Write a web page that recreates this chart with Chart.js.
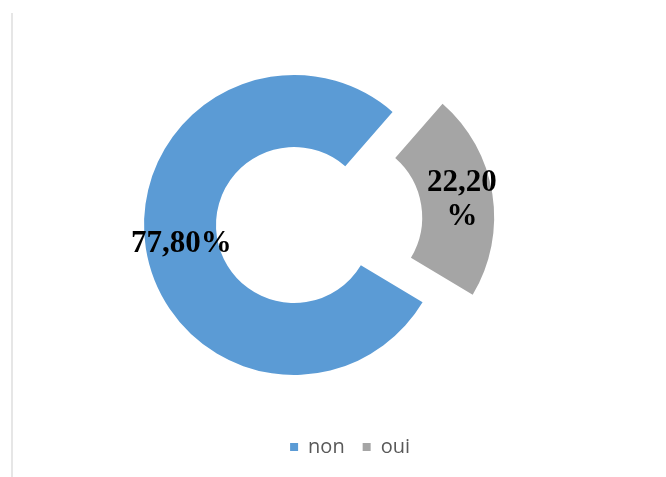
<!DOCTYPE html>
<html>
<head>
<meta charset="utf-8">
<script src="https://cdn.jsdelivr.net/npm/chart.js@4.4.0/dist/chart.umd.min.js"></script>
<style>
  body { margin: 0; background: #fff; }
  #wrap { position: relative; width: 666px; height: 477px; }
  #edge { position: absolute; left: 11px; top: 13px; height: 464px; border-left: 2px solid #e6e6e6; }
  canvas { position: absolute; left: 0; top: 0; }
</style>
</head>
<body>
<div id="wrap">
  <div id="edge"></div>
  <canvas id="myChart" width="666" height="477"></canvas>
</div>
<script>
// data
const categories = ['non', 'oui'];
const percentValues = [77.8, 22.2];
const sliceColors = ['#5B9BD5', '#A5A5A5'];
// the small slice has its label broken before the % sign
const wrapLabel = [false, true];

const ctx = document.getElementById('myChart');

// format 77.8 -> "77,80%"
function formatPct(v) {
    return v.toFixed(2).replace('.', ',') + '%';
}

// draw the percentages in the middle of each ring piece
const sliceLabels = {
    id: 'sliceLabels',
    afterDatasetsDraw(chart) {
        const c = chart.ctx;
        const meta = chart.getDatasetMeta(0);
        c.save();
        c.font = 'bold 31px "Liberation Serif", "Times New Roman", serif';
        c.fillStyle = '#000';
        c.textAlign = 'center';
        c.textBaseline = 'middle';
        meta.data.forEach(function(arc, i) {
            const p = arc.getProps(['x', 'y', 'startAngle', 'endAngle', 'innerRadius', 'outerRadius']);
            const mid = (p.startAngle + p.endAngle) / 2;
            // chart.js moves an exploded arc by a quarter of its offset
            const r = (p.innerRadius + p.outerRadius) / 2 + (arc.options.offset || 0) / 4;
            const x = p.x + Math.cos(mid) * r;
            const y = p.y + Math.sin(mid) * r + 1;
            let text = formatPct(percentValues[i]);
            if (wrapLabel[i]) {
                const lines = [text.slice(0, -1), '%'];
                c.fillText(lines[0], x + 6, y - 17);
                c.fillText(lines[1], x + 6, y + 17);
            } else {
                c.fillText(text, x, y);
            }
        });
        c.restore();
    }
};

const myChart = new Chart(ctx, {
    type: 'doughnut',
    data: {
        labels: categories,
        datasets: [{
            data: percentValues,
            backgroundColor: sliceColors,
            borderWidth: 0,
            offset: [0, 200],
            hoverOffset: 0
        }]
    },
    options: {
        responsive: false,
        animation: false,
        rotation: 121,
        cutout: '52%',
        radius: 150,
        layout: {
            padding: { left: 160, right: 238, top: 31, bottom: 10 }
        },
        plugins: {
            tooltip: { enabled: false },
            legend: {
                position: 'bottom',
                align: 'end',
                labels: {
                    boxWidth: 8,
                    boxHeight: 8,
                    padding: 18,
                    color: '#595959',
                    font: { family: '"Open Sans", sans-serif', size: 20 }
                }
            }
        }
    },
    plugins: [sliceLabels]
});
</script>
</body>
</html>
